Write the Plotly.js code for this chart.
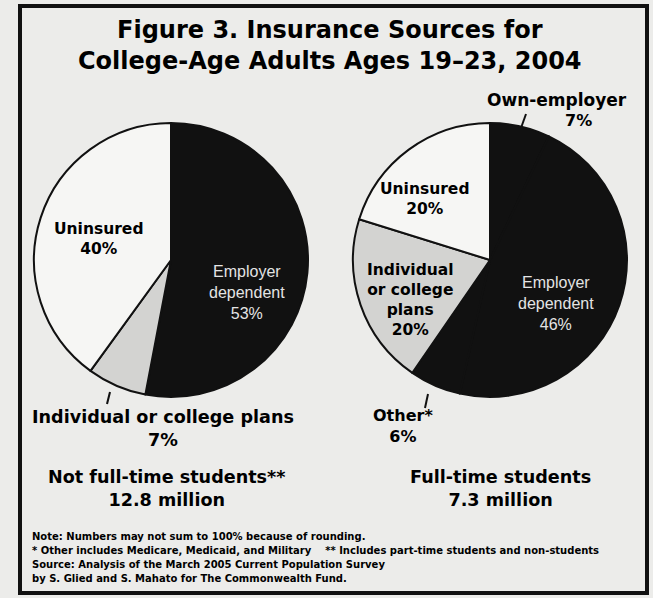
<!DOCTYPE html>
<html>
<head>
<meta charset="utf-8">
<script src="https://cdn.plot.ly/plotly-3.0.1.min.js"></script>
<style>html,body{margin:0;padding:0;background:#ececea;}#chart{width:653px;height:598px;}</style>
</head>
<body>
<div id="chart"></div>
<script>
// ---- data ----
const leftCategories = ['Employer dependent', 'Individual or college plans', 'Uninsured'];
const leftValues = [53, 7, 40];
const rightCategories = ['Own-employer', 'Employer dependent', 'Other*', 'Individual or college plans', 'Uninsured'];
const rightValues = [7, 46, 6, 20, 20];
const leftGroup = ['Not full-time students**', '12.8 million'];
const rightGroup = ['Full-time students', '7.3 million'];
const titleLines = ['Figure 3. Insurance Sources for', 'College-Age Adults Ages 19\u201323, 2004'];
const notes = [
  'Note: Numbers may not sum to 100% because of rounding.',
  '* Other includes Medicare, Medicaid, and Military    ** Includes part-time students and non-students',
  'Source: Analysis of the March 2005 Current Population Survey',
  'by S. Glied and S. Mahato for The Commonwealth Fund.'
];

// ---- styles ----
const W = 653, H = 598;
const BLACK = '#111111', GRAY = '#d3d3d1', WHITE = '#f6f6f4';
const FONT = 'DejaVu Sans, Verdana, sans-serif';
const FONT2 = 'Liberation Sans, Arial, sans-serif';
const px = x => x / W;
const py = y => 1 - y / H;

const leftColors = [BLACK, GRAY, WHITE];
const rightColors = [BLACK, BLACK, BLACK, GRAY, WHITE];

const pieCommon = {
  type: 'pie', sort: false, direction: 'clockwise', rotation: 0,
  textinfo: 'none', hoverinfo: 'label+value', showlegend: false
};

const traces = [
  Object.assign({}, pieCommon, {
    labels: leftCategories, values: leftValues,
    marker: {colors: leftColors, line: {color: BLACK, width: 2}},
    domain: {x: [px(34), px(308)], y: [py(397), py(123)]}
  }),
  Object.assign({}, pieCommon, {
    labels: rightCategories, values: rightValues,
    marker: {colors: rightColors, line: {color: BLACK, width: 2}},
    domain: {x: [px(353), px(627)], y: [py(397), py(123)]}
  })
];

const bold = (s, c) => ({family: FONT, size: s, color: c || '#000', weight: 'bold'});
const light = s => ({family: FONT2, size: s, color: '#e4e4e4'});
function ann(text, x, y, font, extra) {
  return Object.assign({text: text, x: px(x), y: py(y), xref: 'paper', yref: 'paper',
    showarrow: false, xanchor: 'center', yanchor: 'middle', font: font, align: 'center'}, extra || {});
}
const pct = v => v + '%';

const annotations = [
  ann('<b>' + titleLines[0] + '<br>' + titleLines[1] + '</b>', 330, 45, bold(24)),
  // left pie
  ann('<b>' + leftCategories[2] + '<br>' + pct(leftValues[2]) + '</b>', 98, 239, bold(15.5)),
  ann('Employer<br>dependent<br>' + pct(leftValues[0]), 247, 292, light(16)),
  ann('<b>' + leftCategories[1] + '<br>' + pct(leftValues[1]) + '</b>', 163, 428, bold(17.6)),
  ann('<b>' + leftGroup[0] + '<br>' + leftGroup[1] + '</b>', 166, 488, bold(17.6)),
  // right pie
  ann('<b>' + rightCategories[0] + '</b>', 557, 100, bold(17)),
  ann('<b>' + pct(rightValues[0]) + '</b>', 578, 121, bold(16)),
  ann('<b>' + rightCategories[4] + '<br>' + pct(rightValues[4]) + '</b>', 424, 199, bold(15.5)),
  ann('<b>Individual<br>or college<br>plans<br>' + pct(rightValues[3]) + '</b>', 410, 300, bold(15.5)),
  ann('Employer<br>dependent<br>' + pct(rightValues[1]), 556, 303, light(16)),
  ann('<b>' + rightCategories[2] + '<br>' + pct(rightValues[2]) + '</b>', 403, 426, bold(16)),
  ann('<b>' + rightGroup[0] + '<br>' + rightGroup[1] + '</b>', 500, 488, bold(17.6))
];
notes.forEach((t, i) => {
  annotations.push(ann('<b>' + t + '</b>', 30, 536 + i * 14.3, bold(10), {xanchor: 'left'}));
});

const shapes = [
  {type: 'rect', xref: 'paper', yref: 'paper', x0: px(20), x1: px(647), y0: py(593), y1: py(6),
   line: {color: '#111', width: 4}, fillcolor: 'rgba(0,0,0,0)'},
  {type: 'line', xref: 'paper', yref: 'paper', x0: px(110), y0: py(392), x1: px(107), y1: py(404), line: {color: '#111', width: 2}},
  {type: 'line', xref: 'paper', yref: 'paper', x0: px(521), y0: py(128), x1: px(526), y1: py(114), line: {color: '#111', width: 2}},
  {type: 'line', xref: 'paper', yref: 'paper', x0: px(428), y0: py(394), x1: px(425), y1: py(408), line: {color: '#111', width: 2}}
];

const layout = {
  width: W, height: H,
  margin: {l: 0, r: 0, t: 0, b: 0},
  paper_bgcolor: '#ececea', plot_bgcolor: '#ececea',
  annotations: annotations, shapes: shapes, showlegend: false
};
Plotly.newPlot('chart', traces, layout, {displayModeBar: false, staticPlot: true});
</script>
</body>
</html>
